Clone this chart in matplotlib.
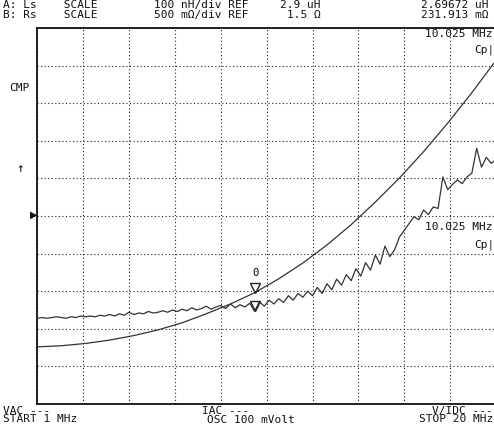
import numpy as np
import matplotlib.pyplot as plt
import matplotlib.transforms as mtransforms

# Barrido 1 MHz .. 20 MHz, 10 divisiones
f_start, f_stop = 1.0, 20.0

# Traza A: Ls (uH), lectura cada 1 MHz
freq_ls = [1, 2, 3, 4, 5, 6, 7, 8, 9, 10.025, 11, 12, 13, 14, 15, 16, 17, 18, 19, 20]
ls_uh = [2.552, 2.555, 2.561, 2.570, 2.582, 2.597, 2.616, 2.640, 2.666, 2.69672,
         2.733, 2.775, 2.823, 2.877, 2.937, 3.001, 3.071, 3.147, 3.228, 3.314]

# Traza B: Rs (ohm), lectura cada 0.2 MHz
freq_rs = np.arange(1.0, 20.01, 0.2)
rs_ohm = [0.14, 0.15, 0.14, 0.15, 0.16, 0.15, 0.14, 0.16, 0.15, 0.17, 0.16,
          0.17, 0.16, 0.18, 0.17, 0.19, 0.17, 0.20, 0.18, 0.22, 0.19,
          0.21, 0.20, 0.23, 0.21, 0.22, 0.24, 0.22, 0.25, 0.23, 0.26,
          0.24, 0.28, 0.25, 0.27, 0.30, 0.26, 0.29, 0.31, 0.27, 0.33,
          0.28, 0.32, 0.29, 0.34, 0.232,
          0.36, 0.30, 0.38, 0.33, 0.40, 0.35, 0.44, 0.38, 0.47, 0.42,
          0.50, 0.44, 0.55, 0.47, 0.60, 0.52, 0.66, 0.58, 0.72, 0.64,
          0.80, 0.70, 0.88, 0.78, 0.98, 0.86, 1.10, 0.96, 1.05, 1.22,
          1.31, 1.40, 1.49, 1.45, 1.58, 1.52, 1.62, 1.60, 2.02, 1.85,
          1.92, 1.98, 1.93, 2.02, 2.07, 2.40, 2.15, 2.28, 2.20, 2.25]

# Escala / referencia de cada traza
ls_ref, ls_div = 2.9, 0.1
rs_ref, rs_div = 1.5, 0.5

# Marcador
mk_freq = 10.025
mk_ls = 2.69672
mk_rs = 0.231913

W, H = 494, 425
fig = plt.figure(figsize=(W / 100, H / 100), dpi=100)
fig.patch.set_facecolor('white')

x0, x1, y0, y1 = 37.3, 496.0, 28.0, 404.0
ax = fig.add_axes([x0 / W, 1 - y1 / H, (x1 - x0) / W, (y1 - y0) / H])
ax2 = ax.twinx()

ax.set_xlim(f_start, f_stop)
ax.set_ylim(ls_ref - 5 * ls_div, ls_ref + 5 * ls_div)
ax2.set_ylim(rs_ref - 5 * rs_div, rs_ref + 5 * rs_div)

ax.set_xticks(np.linspace(f_start, f_stop, 11))
ax.set_yticks(np.linspace(ls_ref - 5 * ls_div, ls_ref + 5 * ls_div, 11))
ax.grid(True, color='#222222', linestyle=(0, (1, 2.2)), linewidth=0.8)
ax.tick_params(length=0, labelbottom=False, labelleft=False)
ax2.tick_params(length=0, labelright=False)
for s in ax.spines.values():
    s.set_linewidth(1.3)
    s.set_color('#111111')
for s in ax2.spines.values():
    s.set_visible(False)

ax.plot(freq_ls, ls_uh, color='#333333', lw=0.9)
ax2.plot(freq_rs, rs_ohm, color='#333333', lw=0.9)

# Triangulos del marcador (punta sobre la traza)
ms = 7
up = mtransforms.offset_copy(ax.transData, fig=fig, y=ms / 2, units='points')
up2 = mtransforms.offset_copy(ax2.transData, fig=fig, y=ms / 2, units='points')
ax.plot([mk_freq], [mk_ls], marker='v', ms=ms, mfc='none', mec='#222222', mew=1.0, transform=up)
ax2.plot([mk_freq], [mk_rs], marker='v', ms=ms, mfc='none', mec='#222222', mew=1.0, transform=up2)
ax.annotate('0', xy=(mk_freq, mk_ls), xytext=(0, 14), textcoords='offset points',
            ha='center', va='center', fontsize=7.6, family='DejaVu Sans Mono')

FS = 8.0


def put(x, y, s, ha='left', ls=0.95):
    fig.text(x / W, 1 - y / H, s, ha=ha, va='center', fontsize=FS,
             family='DejaVu Sans Mono', color='#111111', multialignment=ha,
             linespacing=ls)


# Cabecera
put(3, 10, 'A: Ls    SCALE\nB: Rs    SCALE')
put(154, 10, '100 nH/div REF\n500 m\u03a9/div REF')
put(321, 10, '2.9 uH\n1.5 \u03a9', ha='right')
put(421, 10, '2.69672 uH\n231.913 m\u03a9')

# Etiquetas dentro de la pantalla
put(425, 34, '10.025 MHz')
put(474, 50, 'Cp|')
put(425, 227, '10.025 MHz')
put(474, 245, 'Cp|')

# Lado izquierdo
put(9, 88, 'CMP')
fig.text(20 / W, 1 - 170 / H, '\u2191', ha='center', va='center', fontsize=6.5,
         family='DejaVu Sans', color='#111111', fontweight='bold')
fig.text(33.5 / W, 1 - 215 / H, '\u25b6', ha='center', va='center', fontsize=7,
         family='DejaVu Sans', color='#111111')

# Pie
put(3, 415, 'VAC ---\nSTART 1 MHz', ls=0.8)
put(202, 411, 'IAC ---')
put(207, 420, 'OSC 100 mVolt')
put(493, 415, 'V/IDC ---\nSTOP 20 MHz', ha='right', ls=0.8)

fig.savefig('out.png', dpi=100)
